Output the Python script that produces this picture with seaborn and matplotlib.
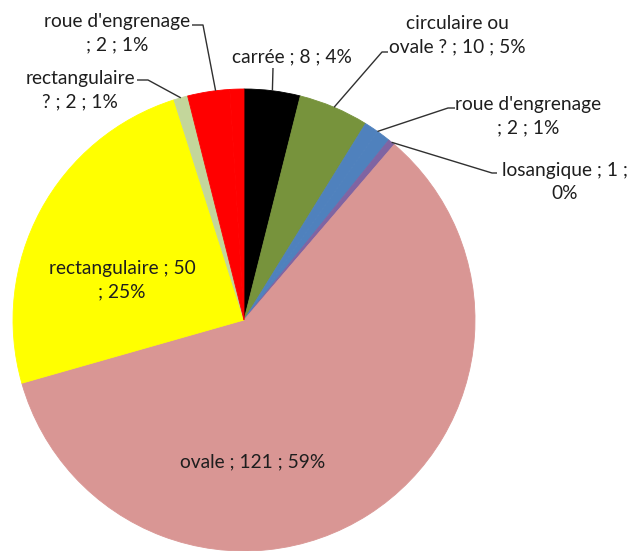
import math
import matplotlib
matplotlib.use("Agg")
import matplotlib.pyplot as plt
import seaborn as sns

# Slices clockwise from 12 o'clock. Empty names are unlabelled remainder
# pieces that share the colour of the neighbouring labelled slice.
names = ["carrée", "circulaire ou ovale ?", "roue d'engrenage", "",
         "losangique", "ovale", "rectangulaire", "rectangulaire ?", "",
         "roue d'engrenage"]
counts = [8, 10, 2, 2, 1, 121, 50, 2, 6, 2]
colors = ["#000000", "#77933C", "#4F81BD", "#4F81BD", "#8064A2",
          "#D99694", "#FFFF00", "#C3D69B", "#FF0000", "#FF0000"]
# where each label wraps onto a second line
breaks = [None, "ovale ?", "; ", None, "0%", None, "; 2", "? ;", None, "; "]

sns.set_theme(style="white")
plt.rcParams["font.family"] = ["Lato", "DejaVu Sans"]

W, H = 639, 551
fig = plt.figure(figsize=(W / 100, H / 100), dpi=100)
ax = fig.add_axes([0, 0, 1, 1])


def Y(yp):
    return H - yp


cx, cy, R = 244, Y(320), 231
wedges, _ = ax.pie(counts, colors=colors, startangle=90, counterclock=False,
                   center=(cx, cy), radius=R)
for w, c in zip(wedges, colors):
    w.set_edgecolor(c)
    w.set_linewidth(0.6)
ax.set_xlim(0, W)
ax.set_ylim(0, H)
ax.set_aspect("equal")
ax.axis("off")

total = sum(counts)
starts = [sum(counts[:i]) for i in range(len(counts))]


def label_text(i):
    pct = int(counts[i] / total * 100 + 0.5)
    s = f"{names[i]} ; {counts[i]} ; {pct}%"
    b = breaks[i]
    if b:
        k = s.find(b)
        s = s[:k].rstrip() + "\n" + s[k:]
    return s


def group_mid(i):
    # mid angle of the run of same-coloured slices containing i
    a = i
    while a > 0 and colors[a - 1] == colors[i]:
        a -= 1
    b = i
    while b < len(counts) - 1 and colors[b + 1] == colors[i]:
        b += 1
    f = (starts[a] + starts[b] + counts[b]) / 2 / total
    th = math.radians(90 - 360 * f)
    return cx + R * math.cos(th), cy + R * math.sin(th)


txt_color = "#1E1E1E"
fs = 13.8
# label centres (x, y from top) and leader-line bends for each labelled slice
layout = {
    0: ((292, 57), [(273, 68)]),
    1: ((457, 35), [(388, 52), (382, 52)]),
    2: ((528, 116), [(455, 108), (448, 108)]),
    4: ((565, 182), [(497, 173), (492, 173)]),
    5: ((253, 462), None),
    6: ((122, 280), None),
    7: ((80, 90), [(137, 80), (148, 80)]),
    9: ((117, 33), [(192, 25), (203, 25)]),
}

for i, ((tx, ty), bend) in layout.items():
    ax.text(tx, Y(ty), label_text(i), ha="center", va="center",
            fontsize=fs, color=txt_color, linespacing=1.45,
            multialignment="center")
    if bend:
        px, py = group_mid(i)
        xs = [p[0] for p in bend] + [px]
        ys = [Y(p[1]) for p in bend] + [py]
        ax.plot(xs, ys, color="#303030", lw=1.0, solid_capstyle="butt")

fig.savefig("out.png", dpi=100, facecolor="white")
